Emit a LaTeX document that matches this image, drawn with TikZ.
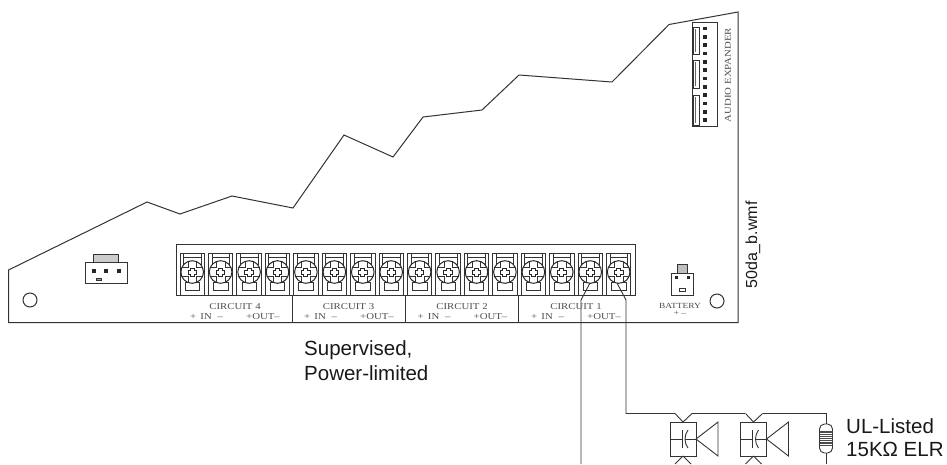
\documentclass[tikz,border=0pt]{standalone}
\usepackage{fontspec}
\setmainfont{Liberation Sans}
\newfontfamily\serifface[FakeStretch=1.2]{Liberation Serif}
\tikzset{
  x=1pt,y=-1pt,
  board/.style={line width=1pt,draw=black!80},
  wire/.style={line width=0.9pt,draw=black!80},
  thin part/.style={line width=0.7pt,draw=black!80},
  sflabel/.style={inner sep=0pt,anchor=west,align=left,font=\fontsize{20.5}{23}\selectfont,text=black!90},
  tiny serif/.style={inner sep=0pt,font=\serifface\fontsize{9}{10}\selectfont,text=black!70},
  small serif/.style={inner sep=0pt,font=\serifface\fontsize{7.8}{9}\selectfont,text=black!70},
  pin/.style={fill=black!85,draw=none},
}
\newcommand{\termblock}[1]{%
  \begin{scope}[xshift=#1pt]
    \draw[line width=1pt,draw=black!80] (0,253) rectangle (24.5,295.5);
    \draw[thin part] (3.5,253) rectangle (21,264);
    \draw[thin part] (3.5,257) -- (21,257);
    \draw[thin part] (5,282) rectangle (19.5,290);
    \draw[line width=1pt,draw=black!85,fill=white] (12.2,272) circle (11.3);
    \draw[thin part] (8,261.5) -- (8,267.5) -- (2,267.5) (2,276.5) -- (8,276.5) -- (8,282.5) (16.5,282.5) -- (16.5,276.5) -- (22.5,276.5) (22.5,267.5) -- (16.5,267.5) -- (16.5,261.5);
    \draw[line width=0.9pt,draw=black!85,fill=white] (10.2,268) -- (14.2,268) -- (14.2,270) -- (16.5,270) -- (16.5,274) -- (14.2,274) -- (14.2,276) -- (10.2,276) -- (10.2,274) -- (8,274) -- (8,270) -- (10.2,270) -- cycle;
  \end{scope}}
\newcommand{\hornload}[1]{%
  \begin{scope}[xshift=#1pt]
    \draw[wire] (670,422) rectangle (696,456);
    \draw[wire] (670,439) -- (682,439);
    \draw[wire] (682,430) -- (682,448);
    \draw[wire] (688,430) .. controls (684,435) and (684,443) .. (688,448);
    \draw[wire] (685,439) -- (696,439);
    \draw[wire] (696,439) -- (718,422) -- (718,456) -- cycle;
    \draw[wire] (683,422) -- (675,413.5);
    \draw[wire] (683,422) -- (692,413.5);
    \draw[wire] (683,456) -- (675,464);
    \draw[wire] (683,456) -- (691,464);
  \end{scope}}
\begin{document}
\begin{tikzpicture}
\useasboundingbox (0,0) rectangle (947,464);
% board outline
\draw[board] (8.5,270) -- (147,202) -- (180,214) -- (232,196) -- (293,208) -- (344,135) -- (393,157) -- (423,117) -- (482,110) -- (519,75) -- (612,82) -- (669,24.5) -- (738,12) -- (738,322.5) -- (8.5,322.5) -- cycle;
% terminal block frame
\draw[board] (176,295.5) -- (176,244) -- (635,244) -- (635,295.5) -- cycle;
\foreach \i in {0,...,15}{\pgfmathsetmacro{\tx}{180+28.43*\i}\termblock{\tx}}
% separators
\draw[board] (292,295.5) -- (292,322);
\draw[board] (405.5,295.5) -- (405.5,322);
\draw[board] (518.5,295.5) -- (518.5,322);
% circuit labels
\node[tiny serif] (c4) at (235,306.5) {CIRCUIT 4};
\node[tiny serif] (c3) at (348.5,306.5) {CIRCUIT 3};
\node[tiny serif] (c2) at (462,306.5) {CIRCUIT 2};
\node[tiny serif] (c1) at (576,306.5) {CIRCUIT 1};
\foreach \nm/\x in {p4/0,p3/114,p2/227.5,p1/341}{
  \node[tiny serif,anchor=west] (\nm a) at (190+\x,317) {+ \,IN \,\,–};
  \node[tiny serif,anchor=west] (\nm b) at (246+\x,317) {+OUT–};
}
% left connector
\draw[thin part,fill=black!20] (93,254.5) rectangle (118,262);
\draw[thin part,fill=white] (85,262) rectangle (127.5,283.5);
\foreach \px in {93.5,106,118.5}{\fill[pin] (\px-2,269) rectangle (\px+2,273);}
\draw[thin part,fill=black!40] (96.5,278) rectangle (101.5,280);
\draw[board] (30,300) circle (7);
% battery connector
\draw[thin part,fill=black!25] (677,264) rectangle (687,273);
\draw[thin part,fill=white] (671,273) rectangle (693,295);
\fill[pin] (674.5,275.5) rectangle (677.5,278.5);
\fill[pin] (686.5,275.5) rectangle (689.5,278.5);
\draw[thin part] (679,288) rectangle (685,291);
\node[small serif] (bat) at (680,305.5) {BATTERY};
\node[small serif] (batp) at (680,313) {+ –};
\draw[board] (717,301) circle (7);
% audio expander
\draw[board] (692,22.5) rectangle (717,126);
\foreach \k in {0,...,11}{\pgfmathsetmacro{\py}{28.5+8.33*\k}\fill[pin] (703,\py-1.8) rectangle (707,\py+1.8);}
\foreach \ya/\yb in {27/54,60/88,95/125}{
  \draw[thin part,fill=white] (693,\ya) rectangle (699.5,\yb);
  \draw[line width=0.7pt,draw=black!60] (695.5,\ya+2) -- (695.5,\yb-2);
}
\node[tiny serif,rotate=90] (ax) at (728,75) {AUDIO EXPANDER};
% wires
\coordinate (w1a) at (590,283);
\coordinate (w1b) at (581,300);
\coordinate (w1c) at (581,464);
\draw[wire] (w1a) -- (w1b) -- (w1c);
\coordinate (w2a) at (617,283);
\coordinate (w2b) at (626,300);
\coordinate (w2c) at (626,413.5);
\coordinate (w2d) at (675,413.5);
\draw[wire] (w2a) -- (w2b) -- (w2c) -- (w2d);
\coordinate (w3a) at (692,413.5);
\coordinate (w3b) at (745,413.5);
\draw[wire] (w3a) -- (w3b);
\hornload{0}
\hornload{70.5}
\coordinate (w4a) at (762.5,413.5);
\coordinate (w4b) at (826,413.5);
\coordinate (r1) at (826,424);
\coordinate (r2) at (826,453);
\coordinate (w4c) at (826,464);
\draw[wire] (w4a) -- (w4b) -- (r1);
\draw[wire] (r2) -- (w4c);
% resistor
\draw[wire,fill=white,rounded corners=5pt] (819.5,424) rectangle (832.5,453);
\foreach \ry in {432,434.2,436.4,438.6,440.8,443,445.2}{\draw[line width=1.2pt,draw=black!70] (819.5,\ry) -- (832.5,\ry);}
% text labels
\node[sflabel] (sup) at (304,350) {Supervised,};
\node[sflabel] (pow) at (304,373) {Power-limited};
\node[sflabel] (ul) at (846,426) {UL-Listed};
\node[sflabel] (elr) at (846,449) {15KΩ ELR};
\node[inner sep=0pt,rotate=90,font=\fontsize{16}{18}\selectfont,text=black!90] (wmf) at (753,245) {50da\_b.wmf};
\end{tikzpicture}
\end{document}
